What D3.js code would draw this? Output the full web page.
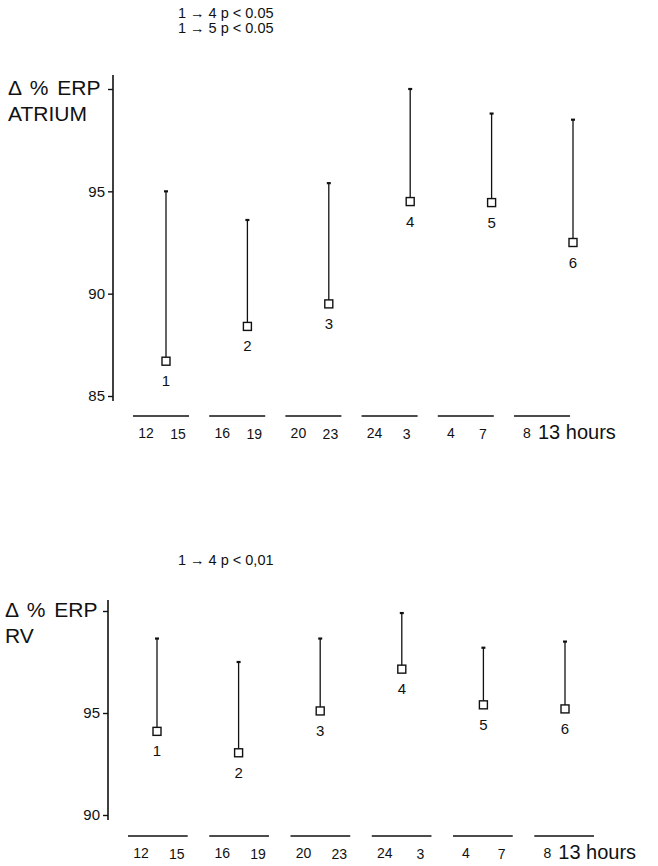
<!DOCTYPE html>
<html>
<head>
<meta charset="utf-8">
<script src="https://cdn.jsdelivr.net/npm/d3@7"></script>
<style>
  body { margin: 0; background: #fff; }
  text { font-family: "Liberation Sans", Arial, sans-serif; fill: #111; }
</style>
</head>
<body>
<svg id="chart" width="658" height="866"></svg>
<script>
// data
const groups = ["1", "2", "3", "4", "5", "6"];
const hourStart = ["12", "16", "20", "24", "4", "8"];
const hourEnd = ["15", "19", "23", "3", "7", "13 hours"];

const atriumMean = [86.7, 88.4, 89.5, 94.5, 94.45, 92.5];
const atriumUpper = [95.0, 93.6, 95.4, 100.0, 98.8, 98.5];
const atriumTicks = [85, 90, 95, 100];
const atriumNotes = ["1 \u2192 4 p < 0.05", "1 \u2192 5 p < 0.05"];

const rvMean = [94.1, 93.05, 95.1, 97.15, 95.4, 95.2];
const rvUpper = [98.65, 97.5, 98.65, 99.9, 98.2, 98.5];
const rvTicks = [90, 95, 100];
const rvNotes = ["1 \u2192 4 p < 0,01"];

const svg = d3.select("#chart");

const drawPanel = (mean, upper, ticks, notes, title, lay) => {
  const g = svg.append("g");
  const data = groups.map((k, i) => ({ k, mean: mean[i], upper: upper[i], s: hourStart[i], e: hourEnd[i] }));

  // scales
  const y = d3.scaleLinear()
    .domain([ticks[0], ticks[ticks.length - 1]])
    .range(lay.yRange);

  const x = d3.scalePoint()
    .domain(groups)
    .range(lay.xRange);

  const seg = d3.scaleBand()
    .domain(groups)
    .range(lay.segRange)
    .paddingInner(0.265)
    .paddingOuter(0);

  // y axis
  const axis = g.append("g")
    .attr("transform", `translate(${lay.axisX}, 0)`)
    .call(d3.axisLeft(y)
      .tickValues(ticks)
      .tickFormat(d => d === 100 ? "" : d)
      .tickSize(5)
      .tickPadding(3));
  axis.select(".domain").remove();
  axis.selectAll("line").attr("stroke", "#111").attr("stroke-width", 1.4);
  axis.selectAll("text")
    .style("font-family", "'Liberation Sans', Arial, sans-serif")
    .style("font-size", "15px")
    .attr("fill", "#111");

  g.append("line")
    .attr("x1", lay.axisX).attr("x2", lay.axisX)
    .attr("y1", y(ticks[ticks.length - 1]) - lay.axisOver)
    .attr("y2", y(ticks[0]) + 5)
    .attr("stroke", "#111")
    .attr("stroke-width", 1.6);

  // title
  g.append("text")
    .attr("x", lay.titleX)
    .attr("y", lay.titleY)
    .style("font-size", "21px")
    .style("word-spacing", "3px")
    .text("\u0394 % ERP");
  g.append("text")
    .attr("x", lay.titleX)
    .attr("y", lay.titleY + 26)
    .style("font-size", "21px")
    .text(title);

  // significance notes
  notes.forEach((n, i) => {
    g.append("text")
      .attr("x", 178)
      .attr("y", lay.noteY + i * 15)
      .style("font-size", "14.5px")
      .text(n);
  });

  // whiskers
  g.selectAll(".whisker")
    .data(data)
    .enter()
    .append("line")
    .attr("x1", d => x(d.k)).attr("x2", d => x(d.k))
    .attr("y1", d => y(d.upper))
    .attr("y2", d => y(d.mean))
    .attr("stroke", "#111")
    .attr("stroke-width", 1.3);

  g.selectAll(".cap")
    .data(data)
    .enter()
    .append("line")
    .attr("x1", d => x(d.k) - 2).attr("x2", d => x(d.k) + 2)
    .attr("y1", d => y(d.upper)).attr("y2", d => y(d.upper))
    .attr("stroke", "#111")
    .attr("stroke-width", 2.2);

  // mean squares
  g.selectAll(".pt")
    .data(data)
    .enter()
    .append("rect")
    .attr("x", d => x(d.k) - 4)
    .attr("y", d => y(d.mean) - 4)
    .attr("width", 8)
    .attr("height", 8)
    .attr("fill", "#fff")
    .attr("stroke", "#111")
    .attr("stroke-width", 1.4);

  g.selectAll(".num")
    .data(data)
    .enter()
    .append("text")
    .attr("x", d => x(d.k))
    .attr("y", d => y(d.mean) + 25)
    .attr("text-anchor", "middle")
    .style("font-size", "15px")
    .text(d => d.k);

  // time segments
  g.selectAll(".seg")
    .data(data)
    .enter()
    .append("line")
    .attr("x1", d => seg(d.k))
    .attr("x2", d => seg(d.k) + seg.bandwidth())
    .attr("y1", lay.segY).attr("y2", lay.segY)
    .attr("stroke", "#111")
    .attr("stroke-width", 1.5);

  g.selectAll(".hs")
    .data(data)
    .enter()
    .append("text")
    .attr("x", d => seg(d.k) + 13)
    .attr("y", lay.segY + 22)
    .attr("text-anchor", "middle")
    .style("font-size", "14px")
    .text(d => d.s);

  g.selectAll(".he")
    .data(data)
    .enter()
    .append("text")
    .attr("x", d => d.e.length > 2 ? seg(d.k) + 24 : seg(d.k) + seg.bandwidth() - 11)
    .attr("y", lay.segY + 23)
    .attr("text-anchor", d => d.e.length > 2 ? "start" : "middle")
    .style("font-size", d => d.e.length > 2 ? "20px" : "14px")
    .text(d => d.e);
};

drawPanel(atriumMean, atriumUpper, atriumTicks, atriumNotes, "ATRIUM", {
  yRange: [396, 89], xRange: [166, 573], segRange: [133, 570],
  axisX: 113, axisOver: 14, titleX: 8, titleY: 95, noteY: 18, segY: 416
});

drawPanel(rvMean, rvUpper, rvTicks, rvNotes, "RV", {
  yRange: [815, 611], xRange: [157, 565], segRange: [128, 594],
  axisX: 108, axisOver: 11, titleX: 5, titleY: 617, noteY: 565, segY: 836
});
</script>
</body>
</html>
